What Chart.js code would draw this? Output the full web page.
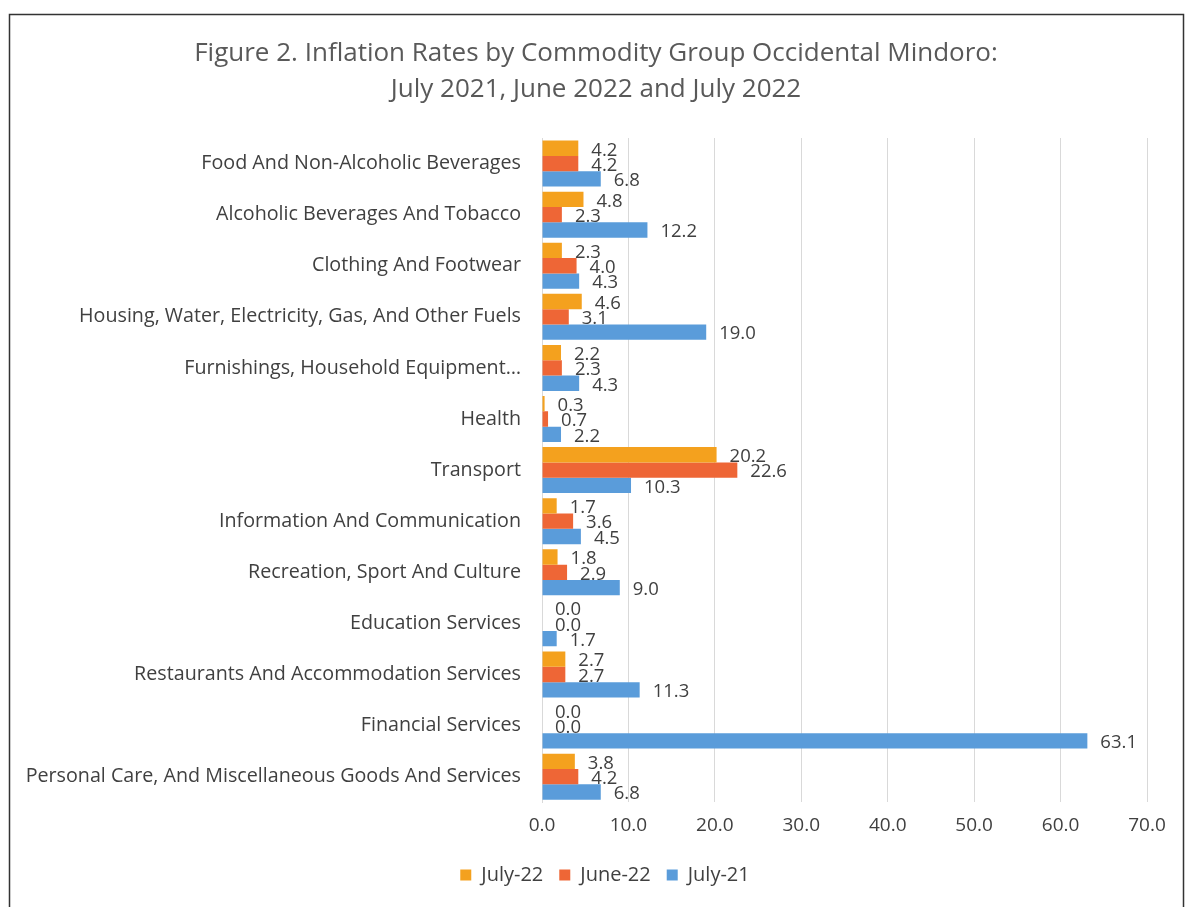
<!DOCTYPE html>
<html>
<head>
<meta charset="utf-8">
<script src="https://cdn.jsdelivr.net/npm/chart.js@4"></script>
<style>
html,body{margin:0;padding:0;background:#fff;}
#wrap{width:1188px;height:907px;position:relative;}
</style>
</head>
<body>
<div id="wrap"><canvas id="c" width="1188" height="907"></canvas></div>
<script>
const categories = [
  "Food And Non-Alcoholic Beverages",
  "Alcoholic Beverages And Tobacco",
  "Clothing And Footwear",
  "Housing, Water, Electricity, Gas, And Other Fuels",
  "Furnishings, Household Equipment…",
  "Health",
  "Transport",
  "Information And Communication",
  "Recreation, Sport And Culture",
  "Education Services",
  "Restaurants And Accommodation Services",
  "Financial Services",
  "Personal Care, And Miscellaneous Goods And Services"
];
const july22 = [4.2, 4.8, 2.3, 4.6, 2.2, 0.3, 20.2, 1.7, 1.8, 0.0, 2.7, 0.0, 3.8];
const june22 = [4.2, 2.3, 4.0, 3.1, 2.3, 0.7, 22.6, 3.6, 2.9, 0.0, 2.7, 0.0, 4.2];
const july21 = [6.8, 12.2, 4.3, 19.0, 4.3, 2.2, 10.3, 4.5, 9.0, 1.7, 11.3, 63.1, 6.8];
const seriesNames = ["July-22", "June-22", "July-21"];
const titleLines = ["Figure 2. Inflation Rates by Commodity Group Occidental Mindoro:", "July 2021, June 2022 and July 2022"];

const FONT = "'Open Sans', sans-serif";
const TXT = "#404040";

const labelPlugin = {
  id: 'valLabels',
  afterDatasetsDraw(chart) {
    const ctx = chart.ctx;
    ctx.save();
    ctx.font = "18.5px " + FONT;
    ctx.fillStyle = TXT;
    ctx.textAlign = "left";
    ctx.textBaseline = "middle";
    chart.data.datasets.forEach((ds, i) => {
      const meta = chart.getDatasetMeta(i);
      meta.data.forEach((bar, j) => {
        ctx.fillText(ds.data[j].toFixed(1), bar.x + 13, bar.y + 2);
      });
    });
    ctx.restore();
  }
};
const borderPlugin = {
  id: 'frame',
  afterLayout(chart) {
    if (chart.titleBlock) { chart.titleBlock.left = 20; chart.titleBlock.right = 1172; }
    if (chart.legend) { chart.legend.left = 40; chart.legend.right = 1170; }
  },
  afterDraw(chart) {
    const ctx = chart.ctx;
    ctx.save();
    ctx.strokeStyle = "#333";
    ctx.lineWidth = 1.5;
    ctx.strokeRect(9.5, 14.5, 1174, 900);
    ctx.restore();
  }
};

new Chart(document.getElementById('c'), {
  type: 'bar',
  data: {
    labels: categories,
    datasets: [
      { label: seriesNames[0], data: july22, backgroundColor: "#F4A11E" },
      { label: seriesNames[1], data: june22, backgroundColor: "#EE6636" },
      { label: seriesNames[2], data: july21, backgroundColor: "#5A9CDA" }
    ]
  },
  options: {
    indexAxis: 'y',
    responsive: false,
    animation: false,
    layout: { padding: { top: 22, right: 41, bottom: 12, left: 20 } },
    datasets: { bar: { categoryPercentage: 0.9, barPercentage: 1.0 } },
    scales: {
      x: {
        min: 0, max: 70,
        ticks: { stepSize: 10, color: TXT, font: { size: 19, family: FONT }, callback: v => v.toFixed(1), padding: 12 },
        grid: { color: "#d9d9d9", drawTicks: false },
        border: { display: false }
      },
      y: {
        ticks: { color: TXT, font: { size: 19.7, family: FONT }, padding: 21, autoSkip: false },
        grid: { display: false, drawTicks: false },
        border: { display: true, color: "#d9d9d9" },
        afterFit: (scale) => { scale.width = 522; }
      }
    },
    plugins: {
      title: {
        display: true,
        text: titleLines,
        color: "#595959",
        font: { size: 26, family: FONT, weight: 'normal', lineHeight: 1.385 },
        padding: { top: 14, bottom: 30 }
      },
      legend: {
        position: 'bottom',
        labels: { boxWidth: 11, boxHeight: 11, color: TXT, font: { size: 20, family: FONT }, padding: 16 }
      },
      tooltip: { enabled: false }
    }
  },
  plugins: [labelPlugin, borderPlugin]
});
</script>
</body>
</html>
